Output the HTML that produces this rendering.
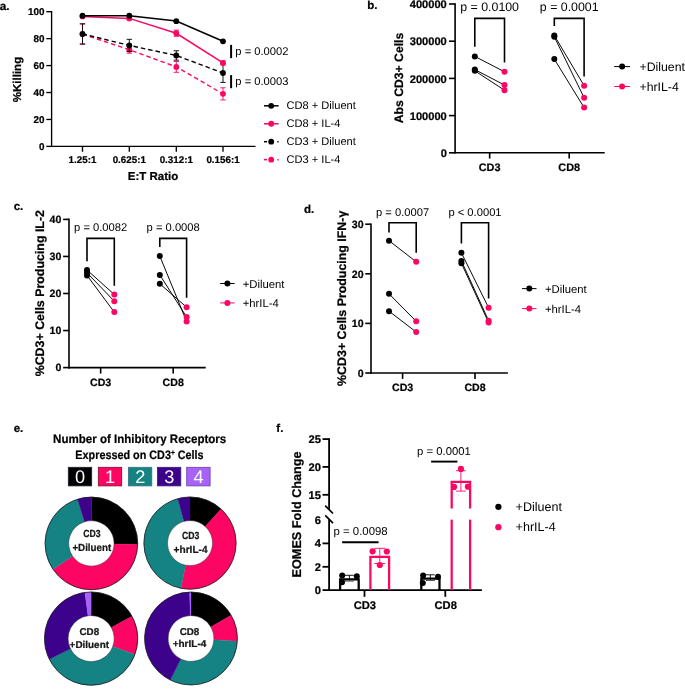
<!DOCTYPE html>
<html><head><meta charset="utf-8"><title>Figure</title>
<style>html,body{margin:0;padding:0;background:#fff}svg{display:block;will-change:transform;text-rendering:geometricPrecision}text{font-family:"Liberation Sans",Arial,sans-serif}text[font-weight=bold]{stroke:#000;stroke-width:0.22px}</style>
</head><body>
<svg width="685" height="692" viewBox="0 0 685 692">
<rect width="685" height="692" fill="#fff"/>
<text x="-0.3" y="9.6" font-size="11.8" font-weight="bold" text-anchor="start" >a.</text>
<line x1="51.6" y1="11.024999999999999" x2="51.6" y2="147.07500000000002" stroke="#000" stroke-width="1.35" />
<line x1="50.925000000000004" y1="146.4" x2="255.5" y2="146.4" stroke="#000" stroke-width="1.35" />
<line x1="46.300000000000004" y1="146.4" x2="51.6" y2="146.4" stroke="#000" stroke-width="1.35" />
<text x="44.4" y="150.0" font-size="9.9" font-weight="bold" text-anchor="end" >0</text>
<line x1="46.300000000000004" y1="119.46000000000001" x2="51.6" y2="119.46000000000001" stroke="#000" stroke-width="1.35" />
<text x="44.4" y="123.06" font-size="9.9" font-weight="bold" text-anchor="end" >20</text>
<line x1="46.300000000000004" y1="92.52" x2="51.6" y2="92.52" stroke="#000" stroke-width="1.35" />
<text x="44.4" y="96.11999999999999" font-size="9.9" font-weight="bold" text-anchor="end" >40</text>
<line x1="46.300000000000004" y1="65.58" x2="51.6" y2="65.58" stroke="#000" stroke-width="1.35" />
<text x="44.4" y="69.17999999999999" font-size="9.9" font-weight="bold" text-anchor="end" >60</text>
<line x1="46.300000000000004" y1="38.639999999999986" x2="51.6" y2="38.639999999999986" stroke="#000" stroke-width="1.35" />
<text x="44.4" y="42.23999999999999" font-size="9.9" font-weight="bold" text-anchor="end" >80</text>
<line x1="46.300000000000004" y1="11.699999999999989" x2="51.6" y2="11.699999999999989" stroke="#000" stroke-width="1.35" />
<text x="44.4" y="15.299999999999988" font-size="9.9" font-weight="bold" text-anchor="end" >100</text>
<line x1="82.5" y1="146.4" x2="82.5" y2="151.8" stroke="#000" stroke-width="1.35" />
<text x="82.5" y="163" font-size="9.8" font-weight="bold" text-anchor="middle" >1.25:1</text>
<line x1="129.3" y1="146.4" x2="129.3" y2="151.8" stroke="#000" stroke-width="1.35" />
<text x="129.3" y="163" font-size="9.8" font-weight="bold" text-anchor="middle" >0.625:1</text>
<line x1="176.3" y1="146.4" x2="176.3" y2="151.8" stroke="#000" stroke-width="1.35" />
<text x="176.3" y="163" font-size="9.8" font-weight="bold" text-anchor="middle" >0.312:1</text>
<line x1="223" y1="146.4" x2="223" y2="151.8" stroke="#000" stroke-width="1.35" />
<text x="223" y="163" font-size="9.8" font-weight="bold" text-anchor="middle" >0.156:1</text>
<text x="153" y="179.8" font-size="11.5" font-weight="bold" text-anchor="middle" >E:T Ratio</text>
<text transform="translate(21.3,79.5) rotate(-90)" font-size="11.5" font-weight="bold" text-anchor="middle">%Killing</text>
<polyline points="82.5,34.1 129.3,49.7 176.3,66.9 223,93.9" fill="none" stroke="#fd0663" stroke-width="1.4" stroke-dasharray="4.5 3"/>
<line x1="82.5" y1="23.957699999999974" x2="82.5" y2="44.16269999999999" stroke="#fd0663" stroke-width="0.9" />
<line x1="79.8" y1="23.957699999999974" x2="85.2" y2="23.957699999999974" stroke="#fd0663" stroke-width="0.9" />
<line x1="79.8" y1="44.16269999999999" x2="85.2" y2="44.16269999999999" stroke="#fd0663" stroke-width="0.9" />
<circle cx="82.5" cy="34.060199999999995" r="2.9" fill="#fd0663"/>
<line x1="129.3" y1="46.1832" x2="129.3" y2="53.18759999999999" stroke="#fd0663" stroke-width="0.9" />
<line x1="126.60000000000001" y1="46.1832" x2="132.0" y2="46.1832" stroke="#fd0663" stroke-width="0.9" />
<line x1="126.60000000000001" y1="53.18759999999999" x2="132.0" y2="53.18759999999999" stroke="#fd0663" stroke-width="0.9" />
<circle cx="129.3" cy="49.6854" r="2.9" fill="#fd0663"/>
<line x1="176.3" y1="61.539" x2="176.3" y2="72.315" stroke="#fd0663" stroke-width="0.9" />
<line x1="173.60000000000002" y1="61.539" x2="179.0" y2="61.539" stroke="#fd0663" stroke-width="0.9" />
<line x1="173.60000000000002" y1="72.315" x2="179.0" y2="72.315" stroke="#fd0663" stroke-width="0.9" />
<circle cx="176.3" cy="66.92699999999999" r="2.9" fill="#fd0663"/>
<line x1="223" y1="87.8055" x2="223" y2="99.9285" stroke="#fd0663" stroke-width="0.9" />
<line x1="220.3" y1="87.8055" x2="225.7" y2="87.8055" stroke="#fd0663" stroke-width="0.9" />
<line x1="220.3" y1="99.9285" x2="225.7" y2="99.9285" stroke="#fd0663" stroke-width="0.9" />
<circle cx="223" cy="93.86699999999999" r="2.9" fill="#fd0663"/>
<polyline points="82.5,33.9 129.3,45.4 176.3,55.5 223,73.0" fill="none" stroke="#000" stroke-width="1.4" stroke-dasharray="4.5 3"/>
<line x1="82.5" y1="23.822999999999993" x2="82.5" y2="44.02799999999999" stroke="#000" stroke-width="0.9" />
<line x1="79.8" y1="23.822999999999993" x2="85.2" y2="23.822999999999993" stroke="#000" stroke-width="0.9" />
<line x1="79.8" y1="44.02799999999999" x2="85.2" y2="44.02799999999999" stroke="#000" stroke-width="0.9" />
<circle cx="82.5" cy="33.9255" r="2.9" fill="#000"/>
<line x1="129.3" y1="39.31349999999999" x2="129.3" y2="51.436499999999995" stroke="#000" stroke-width="0.9" />
<line x1="126.60000000000001" y1="39.31349999999999" x2="132.0" y2="39.31349999999999" stroke="#000" stroke-width="0.9" />
<line x1="126.60000000000001" y1="51.436499999999995" x2="132.0" y2="51.436499999999995" stroke="#000" stroke-width="0.9" />
<circle cx="129.3" cy="45.374999999999986" r="2.9" fill="#000"/>
<line x1="176.3" y1="50.763000000000005" x2="176.3" y2="60.19199999999999" stroke="#000" stroke-width="0.9" />
<line x1="173.60000000000002" y1="50.763000000000005" x2="179.0" y2="50.763000000000005" stroke="#000" stroke-width="0.9" />
<line x1="173.60000000000002" y1="60.19199999999999" x2="179.0" y2="60.19199999999999" stroke="#000" stroke-width="0.9" />
<circle cx="176.3" cy="55.47749999999999" r="2.9" fill="#000"/>
<line x1="223" y1="63.5595" x2="223" y2="82.41749999999999" stroke="#000" stroke-width="0.9" />
<line x1="220.3" y1="63.5595" x2="225.7" y2="63.5595" stroke="#000" stroke-width="0.9" />
<line x1="220.3" y1="82.41749999999999" x2="225.7" y2="82.41749999999999" stroke="#000" stroke-width="0.9" />
<circle cx="223" cy="72.9885" r="2.9" fill="#000"/>
<polyline points="82.5,16.4 129.3,18.4 176.3,33.3 223,62.9" fill="none" stroke="#fd0663" stroke-width="1.5" />
<circle cx="82.5" cy="16.414500000000004" r="2.9" fill="#fd0663"/>
<line x1="129.3" y1="17.357399999999984" x2="129.3" y2="19.512599999999992" stroke="#fd0663" stroke-width="0.9" />
<line x1="126.60000000000001" y1="17.357399999999984" x2="132.0" y2="17.357399999999984" stroke="#fd0663" stroke-width="0.9" />
<line x1="126.60000000000001" y1="19.512599999999992" x2="132.0" y2="19.512599999999992" stroke="#fd0663" stroke-width="0.9" />
<circle cx="129.3" cy="18.434999999999988" r="2.9" fill="#fd0663"/>
<line x1="176.3" y1="30.153899999999993" x2="176.3" y2="36.35009999999998" stroke="#fd0663" stroke-width="0.9" />
<line x1="173.60000000000002" y1="30.153899999999993" x2="179.0" y2="30.153899999999993" stroke="#fd0663" stroke-width="0.9" />
<line x1="173.60000000000002" y1="36.35009999999998" x2="179.0" y2="36.35009999999998" stroke="#fd0663" stroke-width="0.9" />
<circle cx="176.3" cy="33.251999999999995" r="2.9" fill="#fd0663"/>
<line x1="223" y1="60.8655" x2="223" y2="64.9065" stroke="#fd0663" stroke-width="0.9" />
<line x1="220.3" y1="60.8655" x2="225.7" y2="60.8655" stroke="#fd0663" stroke-width="0.9" />
<line x1="220.3" y1="64.9065" x2="225.7" y2="64.9065" stroke="#fd0663" stroke-width="0.9" />
<circle cx="223" cy="62.885999999999996" r="2.9" fill="#fd0663"/>
<polyline points="82.5,15.7 129.3,15.7 176.3,21.1 223,41.3" fill="none" stroke="#000" stroke-width="1.5" />
<circle cx="82.5" cy="15.740999999999985" r="2.9" fill="#000"/>
<circle cx="129.3" cy="15.740999999999985" r="2.9" fill="#000"/>
<circle cx="176.3" cy="21.12899999999999" r="2.9" fill="#000"/>
<circle cx="223" cy="41.33399999999999" r="2.9" fill="#000"/>
<line x1="231.1" y1="44.9" x2="231.1" y2="58.1" stroke="#000" stroke-width="2.0" />
<text x="235.3" y="55.2" font-size="11.2"  text-anchor="start" >p = 0.0002</text>
<line x1="231.1" y1="75.1" x2="231.1" y2="88.2" stroke="#000" stroke-width="2.0" />
<text x="235.3" y="85.2" font-size="11.2"  text-anchor="start" >p = 0.0003</text>
<line x1="264" y1="105.8" x2="278.6" y2="105.8" stroke="#000" stroke-width="1.5" />
<circle cx="271.2" cy="105.8" r="2.9" fill="#000"/>
<text x="286.5" y="109.39999999999999" font-size="11.1"  text-anchor="start" >CD8 + Diluent</text>
<line x1="264" y1="123.75" x2="278.6" y2="123.75" stroke="#fd0663" stroke-width="1.5" />
<circle cx="271.2" cy="123.75" r="2.9" fill="#fd0663"/>
<text x="286.5" y="127.35" font-size="11.1"  text-anchor="start" >CD8 + IL-4</text>
<line x1="264" y1="141.7" x2="267.1" y2="141.7" stroke="#000" stroke-width="1.5" />
<line x1="277.3" y1="141.7" x2="278.6" y2="141.7" stroke="#000" stroke-width="1.5" />
<circle cx="271.2" cy="141.7" r="2.9" fill="#000"/>
<text x="286.5" y="145.29999999999998" font-size="11.1"  text-anchor="start" >CD3 + Diluent</text>
<line x1="264" y1="159.64999999999998" x2="267.1" y2="159.64999999999998" stroke="#fd0663" stroke-width="1.5" />
<line x1="277.3" y1="159.64999999999998" x2="278.6" y2="159.64999999999998" stroke="#fd0663" stroke-width="1.5" />
<circle cx="271.2" cy="159.64999999999998" r="2.9" fill="#fd0663"/>
<text x="286.5" y="163.24999999999997" font-size="11.1"  text-anchor="start" >CD3 + IL-4</text>
<text x="367.3" y="9.3" font-size="11.5" font-weight="bold" text-anchor="start" >b.</text>
<line x1="455.1" y1="3.2" x2="455.1" y2="153.60000000000002" stroke="#000" stroke-width="1.6" />
<line x1="454.3" y1="152.8" x2="604.7" y2="152.8" stroke="#000" stroke-width="1.6" />
<line x1="449.0" y1="152.8" x2="455.1" y2="152.8" stroke="#000" stroke-width="1.6" />
<text x="446.8" y="157.09600000000003" font-size="11.1" font-weight="bold" text-anchor="end" >0</text>
<line x1="449.0" y1="115.60000000000001" x2="455.1" y2="115.60000000000001" stroke="#000" stroke-width="1.6" />
<text x="446.8" y="119.896" font-size="11.1" font-weight="bold" text-anchor="end" >100000</text>
<line x1="449.0" y1="78.4" x2="455.1" y2="78.4" stroke="#000" stroke-width="1.6" />
<text x="446.8" y="82.696" font-size="11.1" font-weight="bold" text-anchor="end" >200000</text>
<line x1="449.0" y1="41.20000000000002" x2="455.1" y2="41.20000000000002" stroke="#000" stroke-width="1.6" />
<text x="446.8" y="45.496000000000016" font-size="11.1" font-weight="bold" text-anchor="end" >300000</text>
<line x1="449.0" y1="4.0" x2="455.1" y2="4.0" stroke="#000" stroke-width="1.6" />
<text x="446.8" y="8.296" font-size="11.1" font-weight="bold" text-anchor="end" >400000</text>
<text transform="translate(402.5,78) rotate(-90)" font-size="12.2" font-weight="bold" text-anchor="middle">Abs CD3+ Cells</text>
<line x1="489.65" y1="152.8" x2="489.65" y2="158.60000000000002" stroke="#000" stroke-width="1.6" />
<text x="489.65" y="171.3" font-size="10.9" font-weight="bold" text-anchor="middle" >CD3</text>
<line x1="474.8" y1="56.4" x2="504.5" y2="71.8" stroke="#0a0a0a" stroke-width="1.0" />
<line x1="474.8" y1="69.6" x2="504.5" y2="85" stroke="#0a0a0a" stroke-width="1.0" />
<line x1="474.8" y1="70.8" x2="504.5" y2="90.2" stroke="#0a0a0a" stroke-width="1.0" />
<circle cx="474.8" cy="56.4" r="3.0" fill="#000"/>
<circle cx="474.8" cy="69.6" r="3.0" fill="#000"/>
<circle cx="474.8" cy="70.8" r="3.0" fill="#000"/>
<circle cx="504.5" cy="71.8" r="3.0" fill="#fd0663"/>
<circle cx="504.5" cy="85" r="3.0" fill="#fd0663"/>
<circle cx="504.5" cy="90.2" r="3.0" fill="#fd0663"/>
<polyline points="474.8,46.7 474.8,18.4 504.5,18.4 504.5,62.6" fill="none" stroke="#000" stroke-width="1.6" stroke-linejoin="miter"/>
<text x="489.65" y="10.8" font-size="12.35"  text-anchor="middle" >p = 0.0100</text>
<line x1="569.2" y1="152.8" x2="569.2" y2="158.60000000000002" stroke="#000" stroke-width="1.6" />
<text x="569.2" y="171.3" font-size="10.9" font-weight="bold" text-anchor="middle" >CD8</text>
<line x1="554.3" y1="35.5" x2="584.1" y2="85.7" stroke="#0a0a0a" stroke-width="1.0" />
<line x1="554.3" y1="36.8" x2="584.1" y2="97.7" stroke="#0a0a0a" stroke-width="1.0" />
<line x1="554.3" y1="59.1" x2="584.1" y2="107.6" stroke="#0a0a0a" stroke-width="1.0" />
<circle cx="554.3" cy="35.5" r="3.0" fill="#000"/>
<circle cx="554.3" cy="36.8" r="3.0" fill="#000"/>
<circle cx="554.3" cy="59.1" r="3.0" fill="#000"/>
<circle cx="584.1" cy="85.7" r="3.0" fill="#fd0663"/>
<circle cx="584.1" cy="97.7" r="3.0" fill="#fd0663"/>
<circle cx="584.1" cy="107.6" r="3.0" fill="#fd0663"/>
<polyline points="554.3,26.1 554.3,18.4 584.1,18.4 584.1,76.5" fill="none" stroke="#000" stroke-width="1.6" stroke-linejoin="miter"/>
<text x="569.2" y="10.8" font-size="12.35"  text-anchor="middle" >p = 0.0001</text>
<line x1="614.2" y1="66.6" x2="630.1" y2="66.6" stroke="#000" stroke-width="1.0" />
<circle cx="622.1" cy="66.6" r="3.0" fill="#000"/>
<text x="639.5" y="71.02799999999999" font-size="12.3"  text-anchor="start" >+Diluent</text>
<line x1="614.2" y1="86.5" x2="630.1" y2="86.5" stroke="#fd0663" stroke-width="1.0" />
<circle cx="622.1" cy="86.5" r="3.0" fill="#fd0663"/>
<text x="639.5" y="90.928" font-size="12.3"  text-anchor="start" >+hrIL-4</text>
<text x="13.7" y="209.7" font-size="11.5" font-weight="bold" text-anchor="start" >c.</text>
<line x1="69.0" y1="218.6" x2="69.0" y2="368.40000000000003" stroke="#000" stroke-width="1.6" />
<line x1="68.2" y1="367.6" x2="205.7" y2="367.6" stroke="#000" stroke-width="1.6" />
<line x1="63.1" y1="367.6" x2="69.0" y2="367.6" stroke="#000" stroke-width="1.6" />
<text x="61.4" y="371.416" font-size="10.6" font-weight="bold" text-anchor="end" >0</text>
<line x1="63.1" y1="330.55" x2="69.0" y2="330.55" stroke="#000" stroke-width="1.6" />
<text x="61.4" y="334.366" font-size="10.6" font-weight="bold" text-anchor="end" >10</text>
<line x1="63.1" y1="293.5" x2="69.0" y2="293.5" stroke="#000" stroke-width="1.6" />
<text x="61.4" y="297.316" font-size="10.6" font-weight="bold" text-anchor="end" >20</text>
<line x1="63.1" y1="256.45" x2="69.0" y2="256.45" stroke="#000" stroke-width="1.6" />
<text x="61.4" y="260.26599999999996" font-size="10.6" font-weight="bold" text-anchor="end" >30</text>
<line x1="63.1" y1="219.4" x2="69.0" y2="219.4" stroke="#000" stroke-width="1.6" />
<text x="61.4" y="223.216" font-size="10.6" font-weight="bold" text-anchor="end" >40</text>
<text transform="translate(43.6,293.2) rotate(-90)" font-size="12.4" font-weight="bold" text-anchor="middle">%CD3+ Cells Producing IL-2</text>
<line x1="100.65" y1="367.6" x2="100.65" y2="373.6" stroke="#000" stroke-width="1.6" />
<text x="100.65" y="385.6" font-size="10.6" font-weight="bold" text-anchor="middle" >CD3</text>
<line x1="87" y1="270" x2="114.3" y2="294.5" stroke="#0a0a0a" stroke-width="1.0" />
<line x1="87" y1="272.8" x2="114.3" y2="301.2" stroke="#0a0a0a" stroke-width="1.0" />
<line x1="87" y1="275.4" x2="114.3" y2="312.1" stroke="#0a0a0a" stroke-width="1.0" />
<circle cx="87" cy="270" r="3.0" fill="#000"/>
<circle cx="87" cy="272.8" r="3.0" fill="#000"/>
<circle cx="87" cy="275.4" r="3.0" fill="#000"/>
<circle cx="114.3" cy="294.5" r="3.0" fill="#fd0663"/>
<circle cx="114.3" cy="301.2" r="3.0" fill="#fd0663"/>
<circle cx="114.3" cy="312.1" r="3.0" fill="#fd0663"/>
<polyline points="87,261.3 87,238.4 114.3,238.4 114.3,285.8" fill="none" stroke="#000" stroke-width="1.6" stroke-linejoin="miter"/>
<text x="100.65" y="230.9" font-size="11.2"  text-anchor="middle" >p = 0.0082</text>
<line x1="173.2" y1="367.6" x2="173.2" y2="373.6" stroke="#000" stroke-width="1.6" />
<text x="173.2" y="385.6" font-size="10.6" font-weight="bold" text-anchor="middle" >CD8</text>
<line x1="159.8" y1="256.1" x2="186.6" y2="321.4" stroke="#0a0a0a" stroke-width="1.0" />
<line x1="159.8" y1="274.9" x2="186.6" y2="317" stroke="#0a0a0a" stroke-width="1.0" />
<line x1="159.8" y1="283.8" x2="186.6" y2="307.2" stroke="#0a0a0a" stroke-width="1.0" />
<circle cx="159.8" cy="256.1" r="3.0" fill="#000"/>
<circle cx="159.8" cy="274.9" r="3.0" fill="#000"/>
<circle cx="159.8" cy="283.8" r="3.0" fill="#000"/>
<circle cx="186.6" cy="321.4" r="3.0" fill="#fd0663"/>
<circle cx="186.6" cy="317" r="3.0" fill="#fd0663"/>
<circle cx="186.6" cy="307.2" r="3.0" fill="#fd0663"/>
<polyline points="159.8,247.1 159.8,238.4 186.6,238.4 186.6,297.7" fill="none" stroke="#000" stroke-width="1.6" stroke-linejoin="miter"/>
<text x="173.2" y="230.9" font-size="11.2"  text-anchor="middle" >p = 0.0008</text>
<line x1="220.2" y1="283.5" x2="234.6" y2="283.5" stroke="#000" stroke-width="1.0" />
<circle cx="227.4" cy="283.5" r="3.0" fill="#000"/>
<text x="242.7" y="287.568" font-size="11.3"  text-anchor="start" >+Diluent</text>
<line x1="220.2" y1="302.9" x2="234.6" y2="302.9" stroke="#fd0663" stroke-width="1.0" />
<circle cx="227.4" cy="302.9" r="3.0" fill="#fd0663"/>
<text x="242.7" y="306.96799999999996" font-size="11.3"  text-anchor="start" >+hrIL-4</text>
<text x="303.9" y="213" font-size="11.5" font-weight="bold" text-anchor="start" >d.</text>
<line x1="371.0" y1="223.39999999999998" x2="371.0" y2="373.8" stroke="#000" stroke-width="1.6" />
<line x1="370.2" y1="373" x2="507.9" y2="373" stroke="#000" stroke-width="1.6" />
<line x1="365.3" y1="373.0" x2="371.0" y2="373.0" stroke="#000" stroke-width="1.6" />
<text x="363.6" y="376.816" font-size="10.6" font-weight="bold" text-anchor="end" >0</text>
<line x1="365.3" y1="323.4" x2="371.0" y2="323.4" stroke="#000" stroke-width="1.6" />
<text x="363.6" y="327.21599999999995" font-size="10.6" font-weight="bold" text-anchor="end" >10</text>
<line x1="365.3" y1="273.8" x2="371.0" y2="273.8" stroke="#000" stroke-width="1.6" />
<text x="363.6" y="277.616" font-size="10.6" font-weight="bold" text-anchor="end" >20</text>
<line x1="365.3" y1="224.2" x2="371.0" y2="224.2" stroke="#000" stroke-width="1.6" />
<text x="363.6" y="228.016" font-size="10.6" font-weight="bold" text-anchor="end" >30</text>
<text transform="translate(346.2,298.3) rotate(-90)" font-size="12.4" font-weight="bold" text-anchor="middle">%CD3+ Cells Producing IFN-γ</text>
<line x1="402.6" y1="373" x2="402.6" y2="378.9" stroke="#000" stroke-width="1.6" />
<text x="402.6" y="390.5" font-size="10.6" font-weight="bold" text-anchor="middle" >CD3</text>
<line x1="389" y1="240.7" x2="416.2" y2="261.8" stroke="#0a0a0a" stroke-width="1.0" />
<line x1="389" y1="293.8" x2="416.2" y2="321.3" stroke="#0a0a0a" stroke-width="1.0" />
<line x1="389" y1="311.2" x2="416.2" y2="332" stroke="#0a0a0a" stroke-width="1.0" />
<circle cx="389" cy="240.7" r="3.0" fill="#000"/>
<circle cx="389" cy="293.8" r="3.0" fill="#000"/>
<circle cx="389" cy="311.2" r="3.0" fill="#000"/>
<circle cx="416.2" cy="261.8" r="3.0" fill="#fd0663"/>
<circle cx="416.2" cy="321.3" r="3.0" fill="#fd0663"/>
<circle cx="416.2" cy="332" r="3.0" fill="#fd0663"/>
<polyline points="389,232.6 389,222.7 416.2,222.7 416.2,252.8" fill="none" stroke="#000" stroke-width="1.6" stroke-linejoin="miter"/>
<text x="402.6" y="215.8" font-size="11.2"  text-anchor="middle" >p = 0.0007</text>
<line x1="475.0" y1="373" x2="475.0" y2="378.9" stroke="#000" stroke-width="1.6" />
<text x="475.0" y="390.5" font-size="10.6" font-weight="bold" text-anchor="middle" >CD8</text>
<line x1="461.4" y1="252.8" x2="488.6" y2="307.7" stroke="#0a0a0a" stroke-width="1.0" />
<line x1="461.4" y1="260.9" x2="488.6" y2="320.7" stroke="#0a0a0a" stroke-width="1.0" />
<line x1="461.4" y1="263.2" x2="488.6" y2="322.5" stroke="#0a0a0a" stroke-width="1.0" />
<circle cx="461.4" cy="252.8" r="3.0" fill="#000"/>
<circle cx="461.4" cy="260.9" r="3.0" fill="#000"/>
<circle cx="461.4" cy="263.2" r="3.0" fill="#000"/>
<circle cx="488.6" cy="307.7" r="3.0" fill="#fd0663"/>
<circle cx="488.6" cy="320.7" r="3.0" fill="#fd0663"/>
<circle cx="488.6" cy="322.5" r="3.0" fill="#fd0663"/>
<polyline points="461.4,243.6 461.4,222.7 488.6,222.7 488.6,298.5" fill="none" stroke="#000" stroke-width="1.6" stroke-linejoin="miter"/>
<text x="475.0" y="215.8" font-size="11.2"  text-anchor="middle" >p &lt; 0.0001</text>
<line x1="522" y1="288.6" x2="536.5" y2="288.6" stroke="#000" stroke-width="1.0" />
<circle cx="529.3" cy="288.6" r="3.0" fill="#000"/>
<text x="544.9" y="292.668" font-size="11.3"  text-anchor="start" >+Diluent</text>
<line x1="522" y1="308.6" x2="536.5" y2="308.6" stroke="#fd0663" stroke-width="1.0" />
<circle cx="529.3" cy="308.6" r="3.0" fill="#fd0663"/>
<text x="544.9" y="312.668" font-size="11.3"  text-anchor="start" >+hrIL-4</text>
<text x="13.7" y="432.1" font-size="11.5" font-weight="bold" text-anchor="start" >e.</text>
<text x="139.7" y="443.3" font-size="12.3" font-weight="bold" text-anchor="middle" textLength="173.2" lengthAdjust="spacingAndGlyphs">Number of Inhibitory Receptors</text>
<text x="139.5" y="458.6" font-size="12.3" font-weight="bold" text-anchor="middle" textLength="128.3" lengthAdjust="spacingAndGlyphs">Expressed on CD3<tspan font-size="7.5" dy="-4">+</tspan><tspan dy="4"> Cells</tspan></text>
<rect x="68.30000000000001" y="467.3" width="23.4" height="18.6" fill="#000005" stroke="#222" stroke-width="0.8"/>
<text x="80.10000000000001" y="483.2" font-size="18.2" fill="#fff" text-anchor="middle">0</text>
<rect x="98.30000000000001" y="467.3" width="23.4" height="18.6" fill="#fd0663" stroke="#7a0a2c" stroke-width="0.8"/>
<text x="110.10000000000001" y="483.2" font-size="18.2" fill="#fff" text-anchor="middle">1</text>
<rect x="128.4" y="467.3" width="23.4" height="18.6" fill="#158283" stroke="#3b6f80" stroke-width="0.8"/>
<text x="140.2" y="483.2" font-size="18.2" fill="#fff" text-anchor="middle">2</text>
<rect x="157.4" y="467.3" width="23.4" height="18.6" fill="#3c028b" stroke="#3a1c78" stroke-width="0.8"/>
<text x="169.2" y="483.2" font-size="18.2" fill="#fff" text-anchor="middle">3</text>
<rect x="186.70000000000002" y="467.3" width="23.4" height="18.6" fill="#a763f7" stroke="#6b3fa8" stroke-width="0.8"/>
<text x="198.5" y="483.2" font-size="18.2" fill="#fff" text-anchor="middle">4</text>
<path d="M91.40,497.10 A46.3,46.3 0 0 1 137.68,544.61 L114.19,544.00 A22.8,22.8 0 0 0 91.40,520.60 Z" fill="#000" stroke="#000" stroke-width="0.3"/>
<path d="M137.68,544.61 A46.3,46.3 0 0 1 53.02,569.29 L72.50,556.15 A22.8,22.8 0 0 0 114.19,544.00 Z" fill="#fd0663" stroke="#fd0663" stroke-width="0.3"/>
<path d="M53.02,569.29 A46.3,46.3 0 0 1 77.48,499.24 L84.54,521.66 A22.8,22.8 0 0 0 72.50,556.15 Z" fill="#158283" stroke="#158283" stroke-width="0.3"/>
<path d="M77.48,499.24 A46.3,46.3 0 0 1 91.40,497.10 L91.40,520.60 A22.8,22.8 0 0 0 84.54,521.66 Z" fill="#3c028b" stroke="#3c028b" stroke-width="0.3"/>
<circle cx="91.4" cy="543.4" r="46.3" fill="none" stroke="#1a1a1a" stroke-width="0.8"/>
<circle cx="91.4" cy="543.4" r="22.8" fill="none" stroke="#222" stroke-width="0.4"/>
<text x="91.8" y="537.4" font-size="10.3" font-weight="bold" fill="#1a1a1a" text-anchor="middle" textLength="17.3" lengthAdjust="spacingAndGlyphs">CD3</text>
<text x="91.8" y="550.7" font-size="10.3" font-weight="bold" fill="#1a1a1a" text-anchor="middle" textLength="38.8" lengthAdjust="spacingAndGlyphs">+Diluent</text>
<path d="M190.00,497.00 A46.1,46.1 0 0 1 221.14,509.11 L205.27,526.44 A22.6,22.6 0 0 0 190.00,520.50 Z" fill="#000" stroke="#000" stroke-width="0.3"/>
<path d="M221.14,509.11 A46.1,46.1 0 0 1 180.97,588.31 L185.57,565.26 A22.6,22.6 0 0 0 205.27,526.44 Z" fill="#fd0663" stroke="#fd0663" stroke-width="0.3"/>
<path d="M180.97,588.31 A46.1,46.1 0 0 1 177.76,498.66 L184.00,521.31 A22.6,22.6 0 0 0 185.57,565.26 Z" fill="#158283" stroke="#158283" stroke-width="0.3"/>
<path d="M177.76,498.66 A46.1,46.1 0 0 1 190.00,497.00 L190.00,520.50 A22.6,22.6 0 0 0 184.00,521.31 Z" fill="#3c028b" stroke="#3c028b" stroke-width="0.3"/>
<circle cx="190" cy="543.1" r="46.1" fill="none" stroke="#1a1a1a" stroke-width="0.8"/>
<circle cx="190" cy="543.1" r="22.6" fill="none" stroke="#222" stroke-width="0.4"/>
<text x="190.6" y="539.1" font-size="10.3" font-weight="bold" fill="#1a1a1a" text-anchor="middle" textLength="17.3" lengthAdjust="spacingAndGlyphs">CD3</text>
<text x="190.6" y="553.3" font-size="10.3" font-weight="bold" fill="#1a1a1a" text-anchor="middle" textLength="34" lengthAdjust="spacingAndGlyphs">+hrIL-4</text>
<path d="M91.10,592.00 A46.6,46.6 0 0 1 132.05,616.36 L111.40,627.58 A23.1,23.1 0 0 0 91.10,615.50 Z" fill="#000" stroke="#000" stroke-width="0.3"/>
<path d="M132.05,616.36 A46.6,46.6 0 0 1 134.95,654.39 L112.83,646.42 A23.1,23.1 0 0 0 111.40,627.58 Z" fill="#fd0663" stroke="#fd0663" stroke-width="0.3"/>
<path d="M134.95,654.39 A46.6,46.6 0 0 1 49.36,659.32 L70.41,648.87 A23.1,23.1 0 0 0 112.83,646.42 Z" fill="#158283" stroke="#158283" stroke-width="0.3"/>
<path d="M49.36,659.32 A46.6,46.6 0 0 1 84.86,592.42 L88.00,615.71 A23.1,23.1 0 0 0 70.41,648.87 Z" fill="#3c028b" stroke="#3c028b" stroke-width="0.3"/>
<path d="M84.86,592.42 A46.6,46.6 0 0 1 91.10,592.00 L91.10,615.50 A23.1,23.1 0 0 0 88.00,615.71 Z" fill="#a763f7" stroke="#a763f7" stroke-width="0.3"/>
<circle cx="91.1" cy="638.6" r="46.6" fill="none" stroke="#1a1a1a" stroke-width="0.8"/>
<circle cx="91.1" cy="638.6" r="23.1" fill="none" stroke="#222" stroke-width="0.4"/>
<text x="89.3" y="635.4" font-size="9.9" font-weight="bold" fill="#1a1a1a" text-anchor="middle" textLength="19.6" lengthAdjust="spacingAndGlyphs">CD8</text>
<text x="89.3" y="647.9" font-size="9.9" font-weight="bold" fill="#1a1a1a" text-anchor="middle" textLength="39.4" lengthAdjust="spacingAndGlyphs">+Diluent</text>
<path d="M191.00,592.10 A46.4,46.4 0 0 1 231.18,615.30 L210.92,627.00 A23,23 0 0 0 191.00,615.50 Z" fill="#000" stroke="#000" stroke-width="0.3"/>
<path d="M231.18,615.30 A46.4,46.4 0 0 1 237.32,641.17 L213.96,639.82 A23,23 0 0 0 210.92,627.00 Z" fill="#fd0663" stroke="#fd0663" stroke-width="0.3"/>
<path d="M237.32,641.17 A46.4,46.4 0 0 1 170.30,680.02 L180.74,659.08 A23,23 0 0 0 213.96,639.82 Z" fill="#158283" stroke="#158283" stroke-width="0.3"/>
<path d="M170.30,680.02 A46.4,46.4 0 0 1 189.62,592.12 L190.32,615.51 A23,23 0 0 0 180.74,659.08 Z" fill="#3c028b" stroke="#3c028b" stroke-width="0.3"/>
<path d="M189.62,592.12 A46.4,46.4 0 0 1 191.00,592.10 L191.00,615.50 A23,23 0 0 0 190.32,615.51 Z" fill="#a763f7" stroke="#a763f7" stroke-width="0.3"/>
<circle cx="191" cy="638.5" r="46.4" fill="none" stroke="#1a1a1a" stroke-width="0.8"/>
<circle cx="191" cy="638.5" r="23" fill="none" stroke="#222" stroke-width="0.4"/>
<text x="189.5" y="634.8" font-size="9.9" font-weight="bold" fill="#1a1a1a" text-anchor="middle" textLength="19.6" lengthAdjust="spacingAndGlyphs">CD8</text>
<text x="189.5" y="647.2" font-size="9.9" font-weight="bold" fill="#1a1a1a" text-anchor="middle" textLength="33.7" lengthAdjust="spacingAndGlyphs">+hrIL-4</text>
<text x="276.3" y="431.6" font-size="11.5" font-weight="bold" text-anchor="start" >f.</text>
<line x1="329.1" y1="438.20000000000005" x2="329.1" y2="509.7" stroke="#000" stroke-width="1.8" />
<line x1="329.1" y1="519.2" x2="329.1" y2="591.0" stroke="#000" stroke-width="1.8" />
<line x1="328.20000000000005" y1="590.1" x2="481.9" y2="590.1" stroke="#000" stroke-width="1.8" />
<line x1="325.2" y1="505.7" x2="333" y2="513.5" stroke="#000" stroke-width="1.7" />
<line x1="325.2" y1="515.4" x2="333" y2="523.2" stroke="#000" stroke-width="1.7" />
<line x1="322.5" y1="439.1" x2="329.1" y2="439.1" stroke="#000" stroke-width="1.8" />
<text x="320.9" y="443.1" font-size="11.2" font-weight="bold" text-anchor="end" >25</text>
<line x1="322.5" y1="466.9" x2="329.1" y2="466.9" stroke="#000" stroke-width="1.8" />
<text x="320.9" y="470.9" font-size="11.2" font-weight="bold" text-anchor="end" >20</text>
<line x1="322.5" y1="494.8" x2="329.1" y2="494.8" stroke="#000" stroke-width="1.8" />
<text x="320.9" y="498.8" font-size="11.2" font-weight="bold" text-anchor="end" >15</text>
<text x="320.9" y="524.0" font-size="11.2" font-weight="bold" text-anchor="end" >6</text>
<line x1="322.5" y1="543.4" x2="329.1" y2="543.4" stroke="#000" stroke-width="1.8" />
<text x="320.9" y="547.4" font-size="11.2" font-weight="bold" text-anchor="end" >4</text>
<line x1="322.5" y1="566.8" x2="329.1" y2="566.8" stroke="#000" stroke-width="1.8" />
<text x="320.9" y="570.8" font-size="11.2" font-weight="bold" text-anchor="end" >2</text>
<line x1="322.5" y1="590.1" x2="329.1" y2="590.1" stroke="#000" stroke-width="1.8" />
<text x="320.9" y="594.1" font-size="11.2" font-weight="bold" text-anchor="end" >0</text>
<text transform="translate(301.4,514.4) rotate(-90)" font-size="12.7" font-weight="bold" text-anchor="middle">EOMES Fold Change</text>
<line x1="364.5" y1="590.1" x2="364.5" y2="596.8" stroke="#000" stroke-width="1.8" />
<text x="364.9" y="608.5" font-size="11.2" font-weight="bold" text-anchor="middle" >CD3</text>
<line x1="445.3" y1="590.1" x2="445.3" y2="596.8" stroke="#000" stroke-width="1.8" />
<text x="445.7" y="608.5" font-size="11.2" font-weight="bold" text-anchor="middle" >CD8</text>
<polyline points="340.1,590.1 340.1,579.3 358.7,579.3 358.7,590.1" fill="none" stroke="#000" stroke-width="2.25"/>
<line x1="349.4" y1="575.3" x2="349.4" y2="581" stroke="#000" stroke-width="0.9" />
<line x1="345.0" y1="575.3" x2="353.79999999999995" y2="575.3" stroke="#000" stroke-width="0.9" />
<line x1="345.0" y1="581" x2="353.79999999999995" y2="581" stroke="#000" stroke-width="0.9" />
<circle cx="342.2" cy="575.4" r="3.0" fill="#000"/>
<circle cx="356.8" cy="576.3" r="3.0" fill="#000"/>
<circle cx="342" cy="582.2" r="3.0" fill="#000"/>
<line x1="345.6" y1="580.9" x2="353.4" y2="580.9" stroke="#c8c8c8" stroke-width="0.5" />
<polyline points="370.4,590.1 370.4,556.8 389.1,556.8 389.1,590.1" fill="none" stroke="#fd0663" stroke-width="2.25"/>
<line x1="379.8" y1="548.3" x2="379.8" y2="563.5" stroke="#fd0663" stroke-width="0.9" />
<line x1="374.3" y1="548.3" x2="385.3" y2="548.3" stroke="#fd0663" stroke-width="0.9" />
<line x1="374.3" y1="563.5" x2="385.3" y2="563.5" stroke="#fd0663" stroke-width="0.9" />
<circle cx="372.6" cy="551.3" r="3.1" fill="#fd0663"/>
<circle cx="386.8" cy="551.5" r="3.1" fill="#fd0663"/>
<circle cx="379.8" cy="565" r="3.1" fill="#fd0663"/>
<polyline points="421.3,590.1 421.3,578.6 439.5,578.6 439.5,590.1" fill="none" stroke="#000" stroke-width="2.25"/>
<line x1="430.4" y1="574.8" x2="430.4" y2="580.5" stroke="#000" stroke-width="0.9" />
<line x1="426.0" y1="574.8" x2="434.79999999999995" y2="574.8" stroke="#000" stroke-width="0.9" />
<line x1="426.0" y1="580.5" x2="434.79999999999995" y2="580.5" stroke="#000" stroke-width="0.9" />
<circle cx="423.1" cy="575.6" r="3.0" fill="#000"/>
<circle cx="438" cy="576.8" r="3.0" fill="#000"/>
<circle cx="422.8" cy="583" r="3.0" fill="#000"/>
<line x1="426.6" y1="580.3" x2="434.4" y2="580.3" stroke="#c8c8c8" stroke-width="0.5" />
<polyline points="451.7,508.6 451.7,481.9 470.1,481.9 470.1,508.6" fill="none" stroke="#fd0663" stroke-width="2.25"/>
<line x1="451.7" y1="519.6" x2="451.7" y2="590.1" stroke="#fd0663" stroke-width="2.25" />
<line x1="470.1" y1="519.6" x2="470.1" y2="590.1" stroke="#fd0663" stroke-width="2.25" />
<line x1="460.9" y1="470.7" x2="460.9" y2="491.1" stroke="#fd0663" stroke-width="0.9" />
<line x1="456.09999999999997" y1="470.7" x2="465.7" y2="470.7" stroke="#fd0663" stroke-width="0.9" />
<line x1="456.09999999999997" y1="491.1" x2="465.7" y2="491.1" stroke="#fd0663" stroke-width="0.9" />
<circle cx="460.9" cy="468.9" r="3.1" fill="#fd0663"/>
<circle cx="454" cy="486.9" r="3.1" fill="#fd0663"/>
<circle cx="467.9" cy="486.7" r="3.1" fill="#fd0663"/>
<text x="333.5" y="535.4" font-size="11.4"  text-anchor="start" >p = 0.0098</text>
<line x1="342.1" y1="542.3" x2="378.6" y2="542.3" stroke="#000" stroke-width="1.9" />
<text x="417.1" y="454.7" font-size="11.3"  text-anchor="start" >p = 0.0001</text>
<line x1="431.1" y1="461.6" x2="457.4" y2="461.6" stroke="#000" stroke-width="1.9" />
<circle cx="498.4" cy="506.9" r="3.15" fill="#000"/>
<text x="515.6" y="511.0" font-size="12.55"  text-anchor="start" >+Diluent</text>
<circle cx="498.4" cy="527.2" r="3.15" fill="#fd0663"/>
<text x="515.6" y="531.3" font-size="12.55"  text-anchor="start" >+hrIL-4</text>
</svg>
</body></html>
